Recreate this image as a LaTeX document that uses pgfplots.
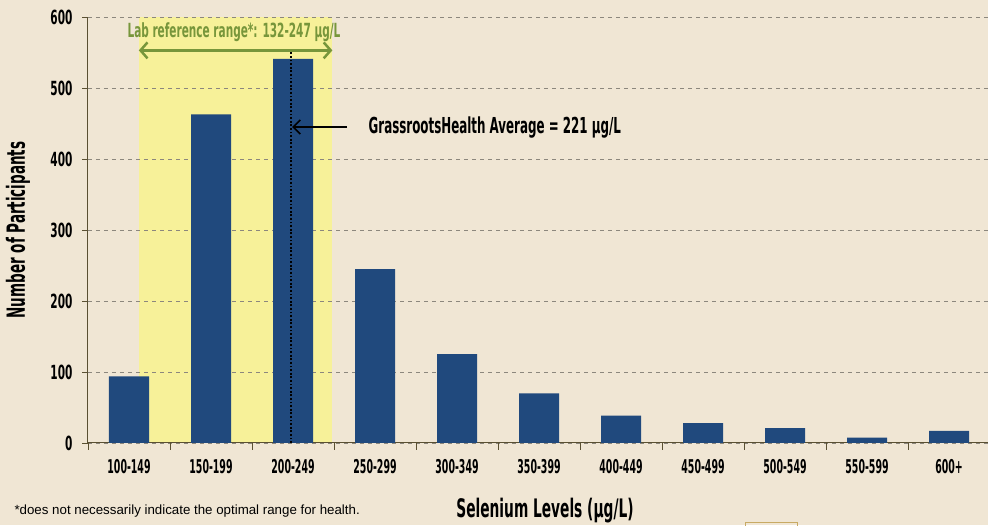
\documentclass[border=0pt]{standalone}
\usepackage{pgfplots}
\pgfplotsset{compat=1.18}
\usepackage{fontspec}
\setmainfont{Liberation Sans}
\newfontfamily\cond{DejaVu Sans Condensed}[FakeStretch=0.6]
\newfontfamily\condx{DejaVu Sans Condensed}[FakeStretch=0.55]
\usetikzlibrary{arrows.meta}
\definecolor{bg}{RGB}{240,230,212}
\definecolor{barc}{RGB}{32,73,125}
\definecolor{band}{RGB}{247,241,153}
\definecolor{labg}{RGB}{119,150,59}
\definecolor{axc}{RGB}{90,80,50}
\definecolor{gridc}{RGB}{140,135,125}
\pgfplotsset{base/.style={scale only axis, width=902pt, height=426pt, at={(88pt,82pt)}, anchor=south west, xmin=-0.5, xmax=10.5, ymin=0, ymax=600}}
\begin{document}
\begin{tikzpicture}
\useasboundingbox (0,0) rectangle (988pt,525pt);
\fill[bg] (0,0) rectangle (988pt,525pt);
\begin{axis}[base, hide axis]
\addplot[fill=band, draw=none] coordinates {(0.12,600)(2.48,600)} \closedcycle;
\end{axis}
\begin{axis}[base,
  axis lines=left,
  axis line style={axc, line width=1pt, -},
  ytick={0,100,...,600},
  ymajorgrids,
  grid style={gridc, line width=0.9pt, dash pattern=on 4pt off 4pt},
  xtick={0,...,10},
  xticklabels={100-149,150-199,200-249,250-299,300-349,350-399,400-449,450-499,500-549,550-599,600+},
  minor xtick={-0.5,0.5,...,10.5},
  major x tick style={draw=none},
  minor x tick style={axc, line width=0.9pt},
  y tick style={axc, line width=0.9pt},
  tick align=outside,
  major tick length=6pt,
  minor tick length=7pt,
  /pgf/number format/assume math mode=true,
  yticklabel style={font=\cond\bfseries\fontsize{19.5}{19.5}\selectfont, xshift=-6pt},
  xticklabel style={font=\condx\bfseries\fontsize{19}{19}\selectfont, yshift=-7pt},
]
\addplot[ybar, bar width=40pt, fill=barc, draw=none] coordinates {
(0,94) (1,463) (2,541) (3,245) (4,125) (5,70) (6,38.5) (7,28) (8,21) (9,7.5) (10,17)};
\addplot[black, line width=1.8pt, dash pattern=on 1.8pt off 1.8pt] coordinates {(1.976,0) (1.976,551)};
\addplot[labg, line width=2.5pt, {Straight Barb[length=7pt,width=16pt]}-{Straight Barb[length=7pt,width=16pt]}] coordinates {(0.12,553) (2.48,553)};
\addplot[black, line width=1.6pt, -{Straight Barb[length=7pt,width=14pt]}] coordinates {(2.66,445) (1.99,445)};
\node[labg, font=\cond\bfseries\fontsize{19.5}{19.5}\selectfont] at (axis cs:1.28,579) {Lab reference range*: 132-247 μg/L};
\node[anchor=west, font=\cond\bfseries\fontsize{22}{22}\selectfont] at (axis cs:2.88,445) {GrassrootsHealth Average = 221 μg/L};
\end{axis}
\node[rotate=90, font=\cond\bfseries\fontsize{25}{25}\selectfont] at (18pt,295pt) {Number of Participants};
\node[font=\cond\bfseries\fontsize{25.5}{25.5}\selectfont] at (545pt,14pt) {Selenium Levels (μg/L)};
\node[anchor=west, font=\fontsize{13.3}{13.3}\selectfont] at (11pt,14pt) {*does not necessarily indicate the optimal range for health.};
\draw[draw={rgb,255:red,200;green,170;blue,100}, line width=1pt] (745pt,-2pt) |- (797pt,3pt) -- (797pt,-2pt);
\end{tikzpicture}
\end{document}
